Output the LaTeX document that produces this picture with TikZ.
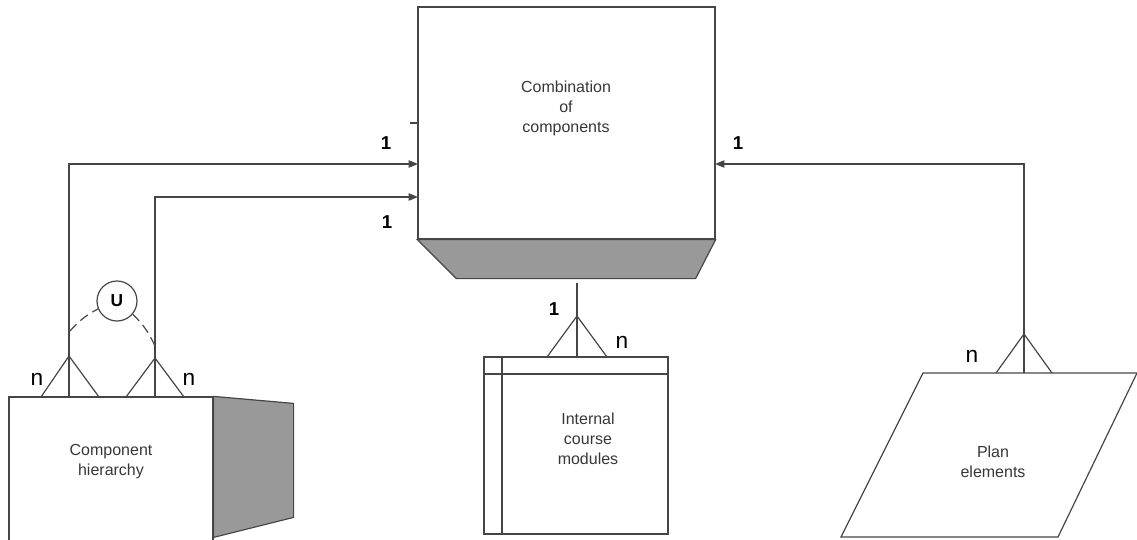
\documentclass[tikz,border=0pt]{standalone}
\usepackage{fontspec}
\setmainfont{Liberation Sans}
\usetikzlibrary{arrows.meta,calc}
\definecolor{ln}{RGB}{70,70,70}
\definecolor{panelgray}{RGB}{153,153,153}
\definecolor{txt}{RGB}{55,55,55}
\begin{document}
\begin{tikzpicture}[x=0.75pt,y=-0.75pt,
  line width=0.9pt,
  ent/.style={draw=ln,rectangle,inner sep=0pt},
  lbl/.style={text=txt,font=\fontsize{12}{15}\selectfont,align=center,inner sep=0pt},
  one/.style={font=\bfseries\fontsize{14}{16}\selectfont,inner sep=0pt},
  many/.style={font=\fontsize{17}{18}\selectfont,inner sep=0pt},
  arr/.style={draw=ln,-{Triangle[length=7pt,width=5.5pt]}},
  conn/.style={draw=ln},
  panel/.style={fill=panelgray,draw=ln}]
\useasboundingbox (0,0) rectangle (1137,539);
% Combination of components
\node[ent,minimum width=222.75pt,minimum height=174pt] (comb) at (566.5,123) {};
\path[panel] (comb.south west) -- (comb.south east) -- ($(comb.south east)+(-20,39)$) -- ($(comb.south west)+(39,39)$) -- cycle;
\node[lbl] (combt) at (566,108) {Combination\\of\\components};
\coordinate (tick) at (410,123);
\draw[conn] (tick) -- (tick -| comb.west);
\coordinate (cin1) at (418,164);
\coordinate (cin2) at (418,197);
\coordinate (cin3) at (715,164);
% Component hierarchy
\node[ent,minimum width=153pt,minimum height=108pt] (hier) at (111,469) {};
\path[panel] (hier.north east) -- ($(hier.north east)+(80,7)$) -- ($(hier.north east)+(80,121)$) -- ($(hier.north east)+(0,141)$) -- cycle;
\node[lbl] (hiert) at (111,462) {Component\\hierarchy};
% Internal course modules
\node[ent,minimum width=138pt,minimum height=132.75pt] (mods) at (576,445.5) {};
\draw[conn] (502,357) -- (502,534);
\draw[conn] (484,374) -- (668,374);
\node[lbl] (modst) at (588,439) {Internal\\course\\modules};
% Plan elements
\draw[conn] (923,373) -- (1137,373) -- (1058,537) -- (841,537) -- cycle;
\node[lbl] (plant) at (993,462) {Plan\\elements};
% connectors from hierarchy
\coordinate (h1) at (69,397);
\coordinate (h2) at (155,397);
\draw[arr] (h1) |- (cin1);
\draw[arr] (h2) |- (cin2);
\coordinate (a1) at (69,356);
\coordinate (a2) at (155,358);
\draw[conn] (41,397) -- (a1) -- (99,397);
\draw[conn] (126,397) -- (a2) -- (184,397);
% union
\node[draw=ln,fill=white,circle,minimum size=30pt,inner sep=0pt,font=\bfseries\fontsize{13}{14}\selectfont] (U) at (117,301) {U};
\coordinate (ul) at (70,331);
\coordinate (ur) at (155,346);
\draw[conn,dash pattern=on 7pt off 4pt] (ul) to[bend left=10] (U);
\draw[conn,dash pattern=on 7pt off 4pt] (U) to[bend left=10] (ur);
% modules connector
\coordinate (m0) at (577,283);
\coordinate (m1) at (577,357);
\coordinate (ma) at (577,316);
\draw[conn] (m0) -- (m1);
\draw[conn] (547,357) -- (ma) -- (607,357);
% plan connector
\coordinate (p1) at (1024,373);
\coordinate (pa) at (1024,334);
\draw[arr] (p1) |- (cin3);
\draw[conn] (996,373) -- (pa) -- (1052,373);
% cardinalities
\node[one] (c1) at (386,143) {1};
\node[one] (c2) at (387,222) {1};
\node[one] (c3) at (738,143) {1};
\node[one] (c4) at (554,309) {1};
\node[many] (n1) at (37,379) {n};
\node[many] (n2) at (189,379) {n};
\node[many] (n3) at (622,342) {n};
\node[many] (n4) at (972,356) {n};
\end{tikzpicture}
\end{document}
